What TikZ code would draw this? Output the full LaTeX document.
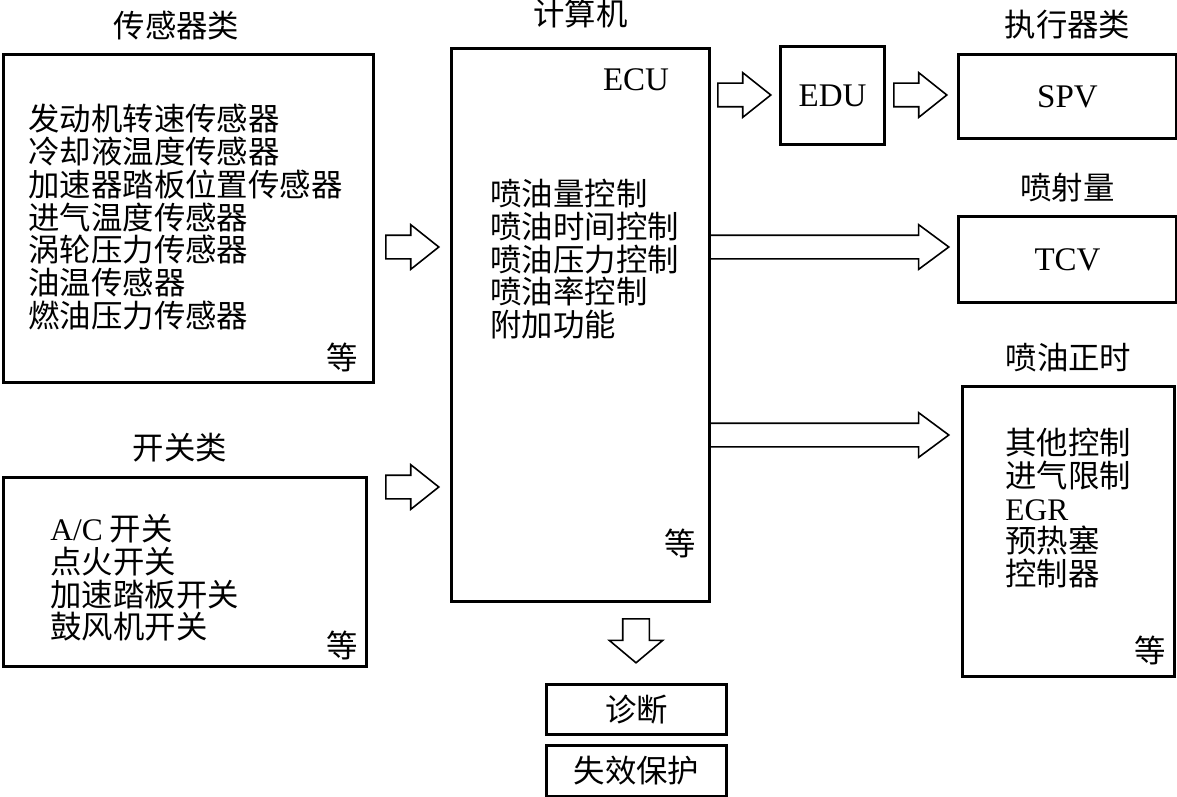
\documentclass[tikz,border=0pt]{standalone}
\usepackage{fontspec}
\setmainfont{Noto Sans CJK SC}
\newfontfamily\lat{Liberation Serif}
\usetikzlibrary{positioning,shapes.arrows}

\begin{document}
\begin{tikzpicture}[
    x=0.5pt, y=-0.5pt,
    font=\fontsize{15.7}{16.35}\selectfont,
    box/.style={rectangle, draw, line width=1.5pt, anchor=north west, inner sep=0pt},
    title/.style={inner sep=0pt},
    list/.style={align=left, anchor=north west, inner sep=0pt},
    fatarrow/.style={single arrow, draw, line width=0.8pt, anchor=tail, inner xsep=0pt, inner ysep=5.5pt, single arrow head indent=0pt},
    shortarrow/.style={fatarrow, minimum height=26.5pt, minimum width=21.5pt, single arrow head extend=5.25pt, single arrow tip angle=77},
    longarrow/.style={fatarrow, minimum height=120pt, minimum width=21.5pt, single arrow head extend=5.25pt, single arrow tip angle=73}
]
    \useasboundingbox (0,0) rectangle (1177,797);

    % boxes
    \node[box, minimum width=185pt, minimum height=164pt] (sensors) at (2,53) {};
    \node[box, minimum width=181.5pt, minimum height=94.5pt] (switches) at (2,476) {};
    \node[box, minimum width=129pt, minimum height=276.5pt] (ecu) at (450,47) {};
    \node[box, minimum width=52pt, minimum height=49pt] (edu) at (779,45) {\fontsize{16.5}{18}\selectfont\lat EDU};
    \node[box, minimum width=109pt, minimum height=42pt] (spv) at (957,53) {\fontsize{16.5}{18}\selectfont\lat SPV};
    \node[box, minimum width=109pt, minimum height=43pt] (tcv) at (957,215) {\fontsize{16.5}{18}\selectfont\lat TCV};
    \node[box, minimum width=106pt, minimum height=145pt] (timing) at (961,385) {};
    \node[box, minimum width=90pt, minimum height=25pt] (diag) at (545,683) {诊断};
    \node[box, minimum width=90pt, minimum height=25.5pt] (failsafe) at (545,744) {失效保护};

    % titles
    \node[title, above=6.5pt of sensors, xshift=-6pt] (sensorstitle) {传感器类};
    \node[title, above=6.5pt of switches, xshift=-2.5pt] (switchestitle) {开关类};
    \node[title, above=9.5pt of ecu] (ecutitle) {计算机};
    \node[title, above=6.5pt of spv] (spvtitle) {执行器类};
    \node[title, above=6.5pt of tcv] (tcvtitle) {喷射量};
    \node[title, above=6.5pt of timing] (timingtitle) {喷油正时};

    % contents
    \node[list] (sensorlist) at (28,104) {发动机转速传感器\\冷却液温度传感器\\加速器踏板位置传感器\\进气温度传感器\\涡轮压力传感器\\油温传感器\\燃油压力传感器};
    \node (sensorsetc) at (342,357) {等};
    \node[list] (switchlist) at (50,514) {{\lat A/C} 开关\\点火开关\\加速踏板开关\\鼓风机开关};
    \node (switchesetc) at (342,645) {等};
    \node (ecuname) at (636,80) {\fontsize{16.5}{18}\selectfont\lat ECU};
    \node[list] (eculist) at (490,179) {喷油量控制\\喷油时间控制\\喷油压力控制\\喷油率控制\\附加功能};
    \node (ecuetc) at (680,543) {等};
    \node[list] (timinglist) at (1005,428) {其他控制\\进气限制\\{\lat EGR}\\预热塞\\控制器};
    \node (timingetc) at (1150,650) {等};

    % block arrows
    \node[shortarrow] (sensorsin) at (385,247) {};
    \node[shortarrow] (switchesin) at (385,487) {};
    \node[shortarrow] (toedu) at (717,95) {};
    \node[shortarrow] (tospv) at (893,95) {};
    \node[longarrow] (totcv) at (708,247) {};
    \node[longarrow] (totiming) at (708,435) {};
    \node[fatarrow, shape border rotate=270, inner xsep=6.25pt, inner ysep=0pt, minimum height=22pt, minimum width=26pt, single arrow head extend=6.75pt, single arrow tip angle=100] (todiag) at (636,618) {};
\end{tikzpicture}
\end{document}
